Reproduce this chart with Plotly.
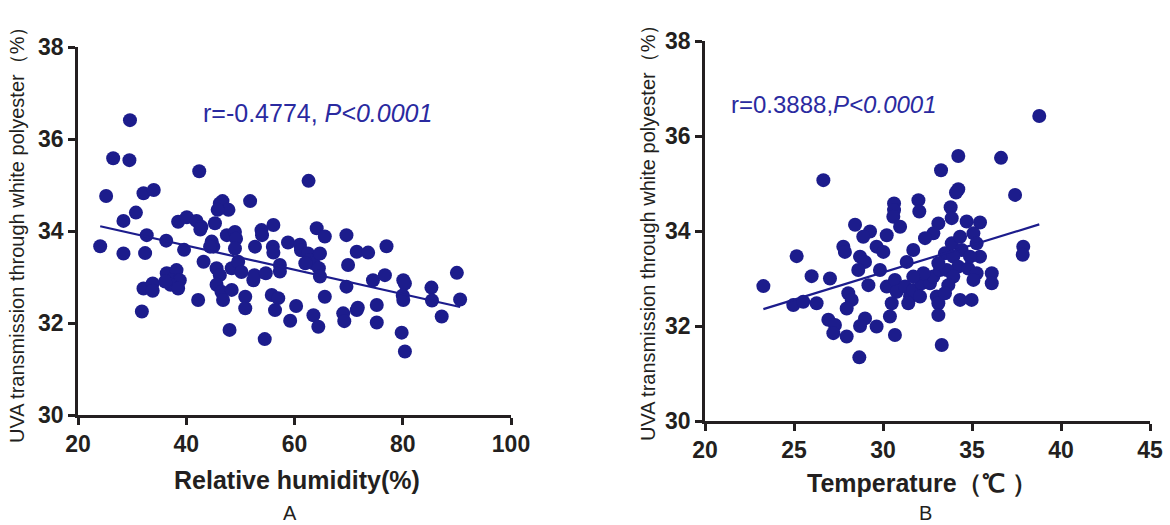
import numpy as np
import plotly.graph_objects as go

# --------------------------
# Data
# --------------------------
# Panel A: relative humidity (%) vs UVA transmission (%)
humidity = [29.6, 26.5, 29.5, 42.4, 62.6, 25.2, 32.1, 34.0, 30.7, 28.4,
            24.1, 28.4, 32.7, 32.4, 32.1, 33.8, 33.8, 31.8, 36.3, 38.5,
            40.1, 41.9, 42.8, 42.6, 39.6, 36.4, 38.2, 37.3, 38.8, 37.1,
            38.5, 36.1, 43.2, 42.2, 45.3, 46.2, 46.7, 47.8, 45.8, 44.7,
            45.0, 44.4, 47.5, 49.0, 49.2, 49.0, 45.6, 46.2, 48.4, 49.6,
            50.2, 45.6, 46.5, 46.8, 48.4, 48.0, 50.9, 50.9, 51.8, 53.9,
            54.0, 52.7, 52.4, 52.6, 54.7, 54.5, 56.1, 56.0, 56.1, 57.3,
            57.3, 55.8, 57.0, 56.4, 58.8, 60.3, 59.2, 61.0, 61.2, 62.5,
            62.7, 63.5, 62.0, 64.7, 64.5, 64.7, 64.1, 65.6, 65.6, 63.5,
            64.4, 69.6, 69.9, 69.6, 69.0, 69.2, 71.5, 73.6, 77.0, 71.5,
            71.7, 74.5, 76.7, 75.2, 75.2, 80.1, 80.4, 80.0, 80.1, 79.8,
            80.4, 85.3, 85.4, 87.2, 90.0, 90.6]
uva_a = [36.41, 35.58, 35.54, 35.30, 35.09, 34.76, 34.82, 34.89, 34.40, 34.22,
         33.67, 33.51, 33.91, 33.52, 32.75, 32.86, 32.70, 32.25, 33.79, 34.20,
         34.30, 34.22, 34.09, 34.03, 33.59, 33.08, 33.15, 32.93, 32.93, 32.83,
         32.75, 32.90, 33.33, 32.50, 34.17, 34.60, 34.65, 34.46, 34.46, 33.77,
         33.66, 33.66, 33.91, 33.98, 33.83, 33.62, 33.19, 33.04, 33.19, 33.33,
         33.11, 32.83, 32.68, 32.50, 32.72, 31.85, 32.57, 32.32, 34.65, 34.02,
         33.91, 33.66, 32.93, 33.04, 33.08, 31.65, 34.13, 33.66, 33.53, 33.26,
         33.12, 32.61, 32.54, 32.28, 33.75, 32.37, 32.05, 33.70, 33.58, 33.51,
         33.37, 33.30, 33.30, 33.51, 33.19, 33.01, 34.06, 33.88, 32.57, 32.17,
         31.92, 33.91, 33.26, 32.79, 32.21, 32.04, 33.55, 33.53, 33.67, 32.28,
         32.33, 32.93, 33.04, 32.39, 32.01, 32.93, 32.86, 32.60, 32.50, 31.79,
         31.38, 32.77, 32.49, 32.14, 33.09, 32.51]

# Panel B: temperature (C) vs UVA transmission (%)
temperature = [38.78, 34.23, 36.63, 33.26, 26.65, 34.23, 34.10, 37.42, 30.62, 31.99,
               30.62, 32.04, 33.80, 30.58, 30.96, 28.43, 29.27, 28.89, 30.21, 33.11,
               33.86, 34.70, 35.45, 35.08, 32.83, 32.36, 27.77, 27.86, 29.64, 30.02,
               31.70, 28.71, 28.99, 28.61, 29.83, 31.33, 25.15, 25.99, 27.02, 23.28,
               24.96, 25.52, 26.27, 29.18, 28.05, 28.24, 27.96, 26.93, 27.30, 27.21,
               27.96, 28.99, 28.71, 29.64, 28.67, 30.67, 30.21, 30.67, 30.77, 30.49,
               30.39, 31.24, 31.52, 31.42, 31.70, 32.17, 32.08, 32.64, 32.83, 33.20,
               33.02, 33.11, 33.11, 33.30, 33.48, 33.86, 34.33, 34.42, 33.95, 34.23,
               33.58, 33.95, 33.67, 33.48, 34.33, 34.98, 34.79, 35.26, 35.45, 35.26,
               36.11, 36.11, 37.88, 37.85, 33.11, 34.89, 35.08, 32.27, 31.70]
uva_b = [36.42, 35.58, 35.54, 35.28, 35.07, 34.88, 34.81, 34.76, 34.58, 34.65,
         34.44, 34.41, 34.50, 34.30, 34.09, 34.13, 33.99, 33.88, 33.91, 34.16,
         34.27, 34.20, 34.18, 33.95, 33.95, 33.85, 33.67, 33.56, 33.67, 33.56,
         33.60, 33.46, 33.35, 33.18, 33.18, 33.35, 33.47, 33.05, 33.00, 32.84,
         32.44, 32.51, 32.48, 32.86, 32.69, 32.55, 32.37, 32.13, 32.02, 31.85,
         31.78, 32.16, 32.00, 31.99, 31.34, 31.81, 32.83, 32.97, 32.72, 32.48,
         32.20, 32.83, 32.62, 32.48, 32.76, 32.90, 32.62, 32.90, 33.04, 33.18,
         32.62, 32.48, 32.23, 31.60, 33.53, 33.74, 33.88, 33.60, 33.46, 33.25,
         33.18, 33.04, 32.86, 32.69, 32.55, 32.55, 33.21, 33.11, 33.46, 33.74,
         33.11, 32.90, 33.67, 33.50, 33.32, 33.46, 32.97, 33.11, 33.04]

xticks_a = [20, 40, 60, 80, 100]
xticks_b = [20, 25, 30, 35, 40, 45]
yticks = [30, 32, 34, 36, 38]

DOT = "#1c1c8c"
AXIS = "#231f20"
FONT = "Liberation Sans, Arial, sans-serif"
NARROW = "Liberation Sans Narrow, Arial Narrow, Liberation Sans, sans-serif"

W, H = 1170, 525

fig = go.Figure()


def add_panel(x, y, xa, ya):
    fig.add_trace(go.Scatter(x=x, y=y, mode="markers", xaxis=xa, yaxis=ya,
                             marker=dict(size=14, color=DOT), showlegend=False))
    k, b = np.polyfit(x, y, 1)
    xs = np.array([min(x), max(x)])
    fig.add_trace(go.Scatter(x=xs, y=k * xs + b, mode="lines", xaxis=xa, yaxis=ya,
                             line=dict(color=DOT, width=2.2), showlegend=False))


add_panel(humidity, uva_a, "x", "y")
add_panel(temperature, uva_b, "x2", "y2")

axis_style = dict(showline=True, linecolor=AXIS, linewidth=2.5, ticks="outside",
                  ticklen=7, tickwidth=2.5, tickcolor=AXIS, showgrid=False,
                  zeroline=False, automargin=False,
                  tickfont=dict(family=NARROW, size=23, color=AXIS, weight="bold"))

fig.update_layout(
    width=W, height=H,
    margin=dict(l=0, r=0, t=0, b=0, pad=0),
    paper_bgcolor="white", plot_bgcolor="white",
    xaxis=dict(domain=[78 / W, 511 / W], range=[20, 100], tickvals=xticks_a,
               anchor="y", **axis_style),
    yaxis=dict(domain=[1 - 415 / H, 1 - 47 / H], range=[30, 38], tickvals=yticks,
               anchor="x", **axis_style),
    xaxis2=dict(domain=[705 / W, 1150 / W], range=[20, 45], tickvals=xticks_b,
                anchor="y2", **axis_style),
    yaxis2=dict(domain=[1 - 421 / H, 1 - 41 / H], range=[30, 38], tickvals=yticks,
                anchor="x2", **axis_style),
)

blue = "#2a2aa0"
notes = [
    # text, x px, y px, size, color, bold, angle
    ("r=-0.4774, <i>P&lt;0.0001</i>", 317, 113, 25, blue, False, 0),
    ("r=0.3888,<i>P&lt;0.0001</i>", 834, 104, 24, blue, False, 0),
    ("UVA transmission through white polyester（%）", 17, 230, 20, AXIS, False, -90),
    ("UVA transmission through white polyester（%）", 648, 228, 20, AXIS, False, -90),
    ("Relative humidity(%)", 297, 480, 25, AXIS, True, 0),
    ("Temperature（℃ ）", 922, 483, 25, AXIS, True, 0),
    ("A", 290, 513, 20, AXIS, False, 0),
    ("B", 925, 513, 20, AXIS, False, 0),
]
for text, px, py, size, color, bold, angle in notes:
    fig.add_annotation(text=text, xref="paper", yref="paper",
                       x=px / W, y=1 - py / H, xanchor="center", yanchor="middle",
                       showarrow=False, textangle=angle, borderpad=0,
                       font=dict(family=FONT, size=size, color=color,
                                 weight="bold" if bold else "normal"))

# drop the browser's default body margin so the figure fills the window exactly
fig.write_html("out.html", config={"displayModeBar": False},
               post_script="document.body.style.margin='0px';")
